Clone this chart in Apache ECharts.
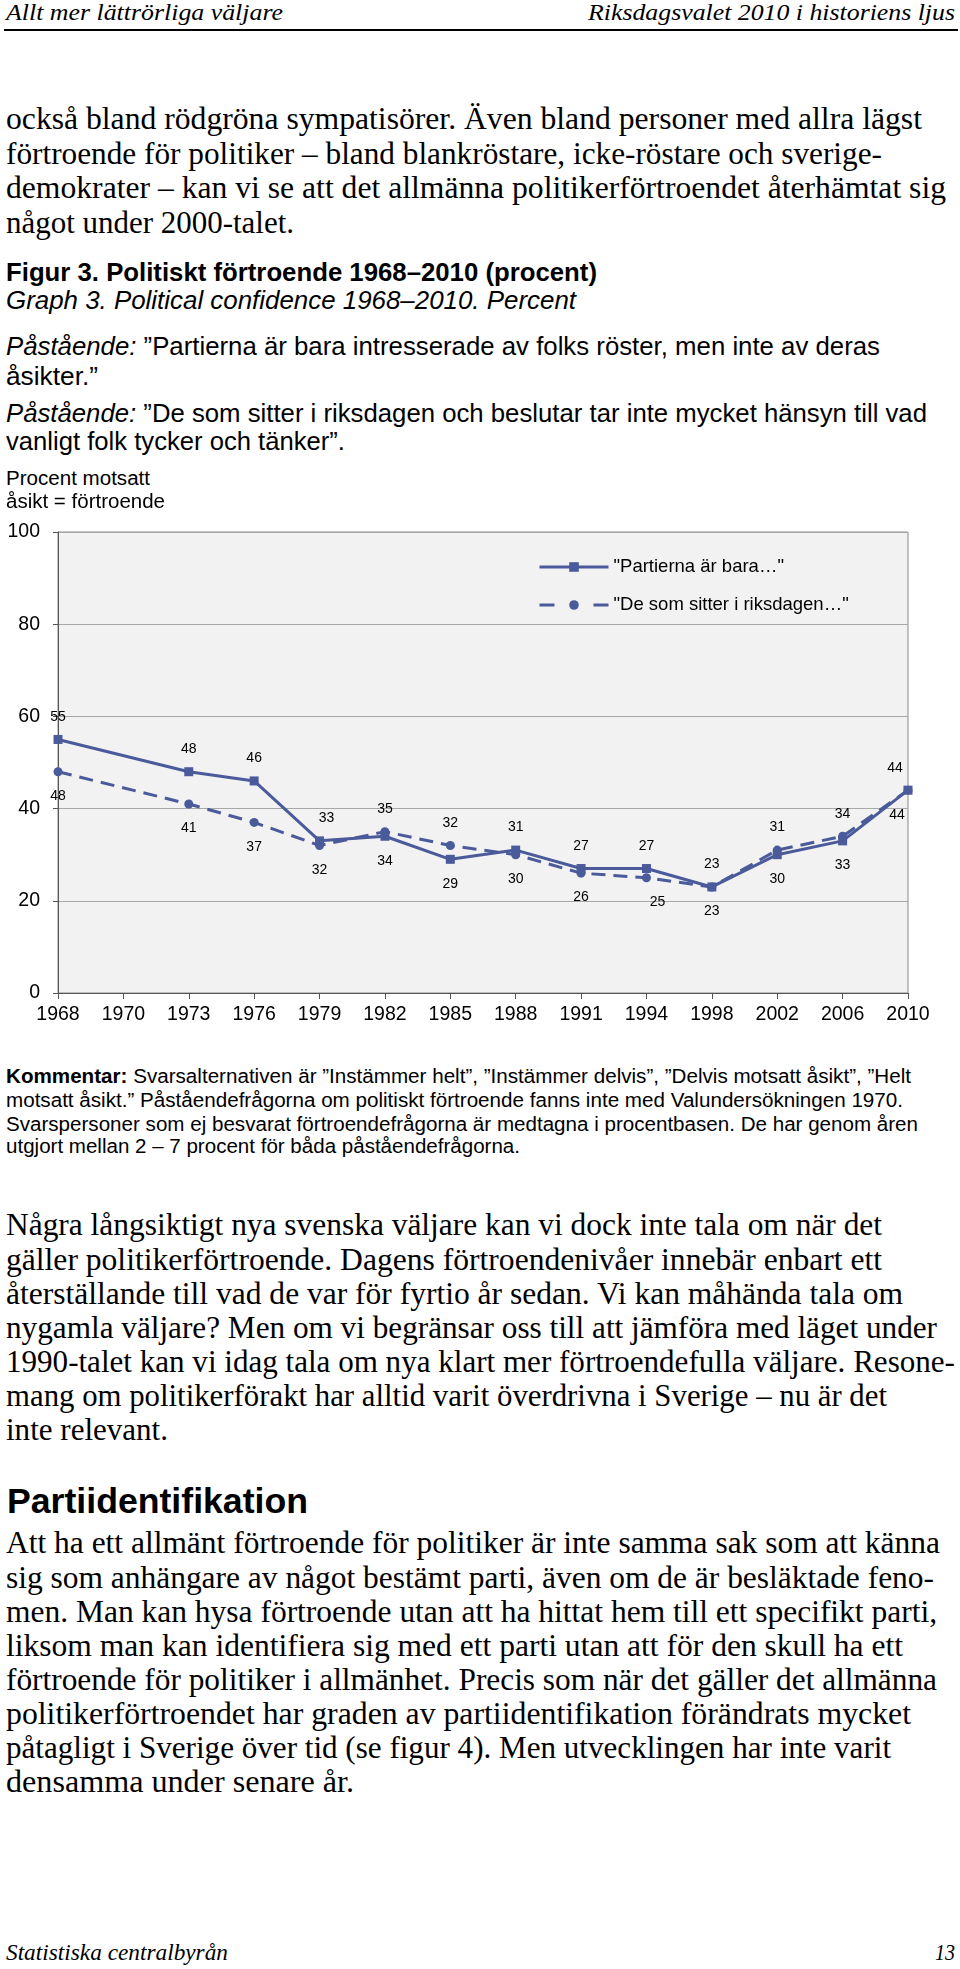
<!DOCTYPE html>
<html>
<head>
<meta charset="utf-8">
<script src="https://cdn.jsdelivr.net/npm/echarts@6/dist/echarts.min.js"></script>
<style>
  html, body { margin: 0; padding: 0; background: #fff; }
  body { width: 960px; height: 1969px; position: relative; overflow: hidden; }
  .t { position: absolute; white-space: nowrap; line-height: 1; color: #000; transform-origin: 0 0; }
  .serif { font-family: "Liberation Serif", "DejaVu Serif", serif; font-size: 31px; }
  .hdr { font-family: "Liberation Serif", "DejaVu Serif", serif; font-style: italic; font-size: 24px; }
  .cap { font-family: "Liberation Sans", Arial, Helvetica, sans-serif; font-size: 25.5px; }
  .capb { font-family: "Liberation Sans", Arial, Helvetica, sans-serif; font-size: 26px; font-weight: bold; }
  .capi { font-family: "Liberation Sans", Arial, Helvetica, sans-serif; font-size: 26px; font-style: italic; }
  .small { font-family: "Liberation Sans", Arial, Helvetica, sans-serif; font-size: 20px; }
  .komm { font-family: "Liberation Sans", Arial, Helvetica, sans-serif; font-size: 19.5px; }
  .head { font-family: "Liberation Sans", Arial, Helvetica, sans-serif; font-size: 35px; font-weight: bold; }
  #rule { position: absolute; left: 4px; width: 954px; top: 29px; height: 2px; background: #000; }
  #chart { position: absolute; left: 0; top: 505px; width: 960px; height: 545px; }
</style>
</head>
<body>
<div id="rule"></div>
<div id="chart"></div>
<script>
// ---------- chart data ----------
const years = ['1968','1970','1973','1976','1979','1982','1985','1988','1991','1994','1998','2002','2006','2010'];
const partierna = [55, null, 48, 46, 33, 34, 29, 31, 27, 27, 23, 30, 33, 44];
const riksdagen = [48, null, 41, 37, 32, 35, 32, 30, 26, 25, 23, 31, 34, 44];
const seriesNames = ['"Partierna är bara…"', '"De som sitter i riksdagen…"'];
const yTicks = { min: 0, max: 100, interval: 20 };

// ---------- page text ----------
// [html, class, left, right, centerY]
const textLines = [
  ['Allt mer lättrörliga väljare', 'hdr', 6, 283, 13],
  ['Riksdagsvalet 2010 i historiens ljus', 'hdr', 588, 955, 13],
  ['också bland rödgröna sympatisörer. Även bland personer med allra lägst', 'serif', 6, 922, 122],
  ['förtroende för politiker – bland blankröstare, icke-röstare och sverige-', 'serif', 6, 882, 157],
  ['demokrater – kan vi se att det allmänna politikerförtroendet återhämtat sig', 'serif', 6, 946, 191],
  ['något under 2000-talet.', 'serif', 6, 294, 226],
  ['Figur 3. Politiskt förtroende 1968–2010 (procent)', 'capb', 6, 597, 273],
  ['Graph 3. Political confidence 1968–2010. Percent', 'capi', 6, 576, 301],
  ['<i>Påstående:</i> ”Partierna är bara intresserade av folks röster, men inte av deras', 'cap', 6, 880, 348],
  ['åsikter.”', 'cap', 6, 98, 378],
  ['<i>Påstående:</i> ”De som sitter i riksdagen och beslutar tar inte mycket hänsyn till vad', 'cap', 6, 927, 415],
  ['vanligt folk tycker och tänker”.', 'cap', 6, 345, 443],
  ['Procent motsatt', 'small', 6, 150, 479],
  ['åsikt = förtroende', 'small', 6, 165, 502],
  ['<b>Kommentar:</b> Svarsalternativen är ”Instämmer helt”, ”Instämmer delvis”, ”Delvis motsatt åsikt”, ”Helt', 'komm', 6, 911, 1077],
  ['motsatt åsikt.” Påståendefrågorna om politiskt förtroende fanns inte med Valundersökningen 1970.', 'komm', 6, 903, 1101],
  ['Svarspersoner som ej besvarat förtroendefrågorna är medtagna i procentbasen. De har genom åren', 'komm', 6, 918, 1125],
  ['utgjort mellan 2 – 7 procent för båda påståendefrågorna.', 'komm', 6, 520, 1147],
  ['Några långsiktigt nya svenska väljare kan vi dock inte tala om när det', 'serif', 6, 882, 1228],
  ['gäller politikerförtroende. Dagens förtroendenivåer innebär enbart ett', 'serif', 6, 882, 1263],
  ['återställande till vad de var för fyrtio år sedan. Vi kan måhända tala om', 'serif', 6, 903, 1297],
  ['nygamla väljare? Men om vi begränsar oss till att jämföra med läget under', 'serif', 6, 937, 1331],
  ['1990-talet kan vi idag tala om nya klart mer förtroendefulla väljare. Resone-', 'serif', 6, 955, 1365],
  ['mang om politikerförakt har alltid varit överdrivna i Sverige – nu är det', 'serif', 6, 887, 1399],
  ['inte relevant.', 'serif', 6, 168, 1433],
  ['Partiidentifikation', 'head', 7, 308, 1502],
  ['Att ha ett allmänt förtroende för politiker är inte samma sak som att känna', 'serif', 6, 940, 1546],
  ['sig som anhängare av något bestämt parti, även om de är besläktade feno-', 'serif', 6, 934, 1581],
  ['men. Man kan hysa förtroende utan att ha hittat hem till ett specifikt parti,', 'serif', 6, 937, 1615],
  ['liksom man kan identifiera sig med ett parti utan att för den skull ha ett', 'serif', 6, 903, 1649],
  ['förtroende för politiker i allmänhet. Precis som när det gäller det allmänna', 'serif', 6, 937, 1683],
  ['politikerförtroendet har graden av partiidentifikation förändrats mycket', 'serif', 6, 911, 1717],
  ['påtagligt i Sverige över tid (se figur 4). Men utvecklingen har inte varit', 'serif', 6, 891, 1751],
  ['densamma under senare år.', 'serif', 6, 354, 1785],
  ['Statistiska centralbyrån', 'hdr', 6, 228, 1953],
  ['13', 'hdr', 935, 955, 1953]
];

const vOffset = { serif: 0.61, hdr: 0.55, cap: 0.53, capb: 0.53, capi: 0.53, small: 0.53, komm: 0.53, head: 0.53 };

function placeText() {
  textLines.forEach(([html, cls, left, right, cy]) => {
    const d = document.createElement('div');
    d.className = 't ' + cls;
    d.innerHTML = html;
    document.body.appendChild(d);
    const fs = parseFloat(getComputedStyle(d).fontSize);
    d.style.left = left + 'px';
    d.style.top = (cy - vOffset[cls] * fs) + 'px';
    const w = d.getBoundingClientRect().width;
    const s = (right - left) / w;
    d.style.transform = 'scaleX(' + s.toFixed(4) + ')';
  });
}
placeText();

// ---------- chart ----------
const COLOR = '#4a5a9a';
const FONT = '"Liberation Sans", Arial, Helvetica, sans-serif';
// small horizontal label nudges: [seriesIndex, pointIndex, dx]
const labelNudges = [[1, 9, 11], [0, 13, -13], [1, 13, -11], [0, 4, 7]];

function buildData(vals, other, sIdx) {
  return vals.map((v, i) => {
    if (v == null) return null;
    const o = other[i];
    const above = sIdx === 0 ? (o == null || v >= o) : (o != null && v > o);
    const n = labelNudges.find(a => a[0] === sIdx && a[1] === i);
    return {
      value: v,
      label: { position: above ? 'top' : 'bottom', distance: above ? 11 : 13, offset: [n ? n[2] : 0, 0] }
    };
  });
}

const chart = echarts.init(document.getElementById('chart'), null, { renderer: 'canvas' });
chart.setOption({
  animation: false,
  textStyle: { fontFamily: FONT },
  grid: {
    left: 58, right: 52, top: 27, bottom: 57,
    show: true, backgroundColor: '#f2f2f2', borderColor: '#8a8a8a', borderWidth: 1
  },
  legend: {
    orient: 'vertical', left: 533, top: 47,
    itemWidth: 69, itemHeight: 12, itemGap: 18,
    data: [
      { name: seriesNames[0], lineStyle: { width: 3 } },
      { name: seriesNames[1], lineStyle: { width: 3, type: [15, 39] } }
    ],
    textStyle: { fontSize: 18.5, color: '#000', fontFamily: FONT, lineHeight: 20 }
  },
  xAxis: {
    type: 'category', data: years, boundaryGap: false,
    axisLine: { lineStyle: { color: '#555', width: 1 } },
    axisTick: { show: true, length: 6, lineStyle: { color: '#555' } },
    axisLabel: { interval: 0, color: '#000', fontSize: 19.5, margin: 12, fontFamily: FONT },
    splitLine: { show: false }
  },
  yAxis: {
    type: 'value', min: yTicks.min, max: yTicks.max, interval: yTicks.interval,
    axisLine: { show: true, lineStyle: { color: '#555', width: 1 } },
    axisTick: { show: true, length: 5, lineStyle: { color: '#555' } },
    axisLabel: { color: '#000', fontSize: 19.5, margin: 18, fontFamily: FONT },
    splitLine: { lineStyle: { color: '#a8a8a8', width: 1 } }
  },
  series: [
    {
      name: seriesNames[0], type: 'line', connectNulls: true,
      data: buildData(partierna, riksdagen, 0),
      symbol: 'rect', symbolSize: 9,
      lineStyle: { color: COLOR, width: 3 },
      itemStyle: { color: COLOR },
      label: { show: true, fontSize: 14, color: '#000', fontFamily: FONT },
      z: 3
    },
    {
      name: seriesNames[1], type: 'line', connectNulls: true,
      data: buildData(riksdagen, partierna, 1),
      symbol: 'circle', symbolSize: 9,
      lineStyle: { color: COLOR, width: 3, type: [14, 8] },
      itemStyle: { color: COLOR },
      label: { show: true, fontSize: 14, color: '#000', fontFamily: FONT },
      z: 2
    }
  ]
});
</script>
</body>
</html>
